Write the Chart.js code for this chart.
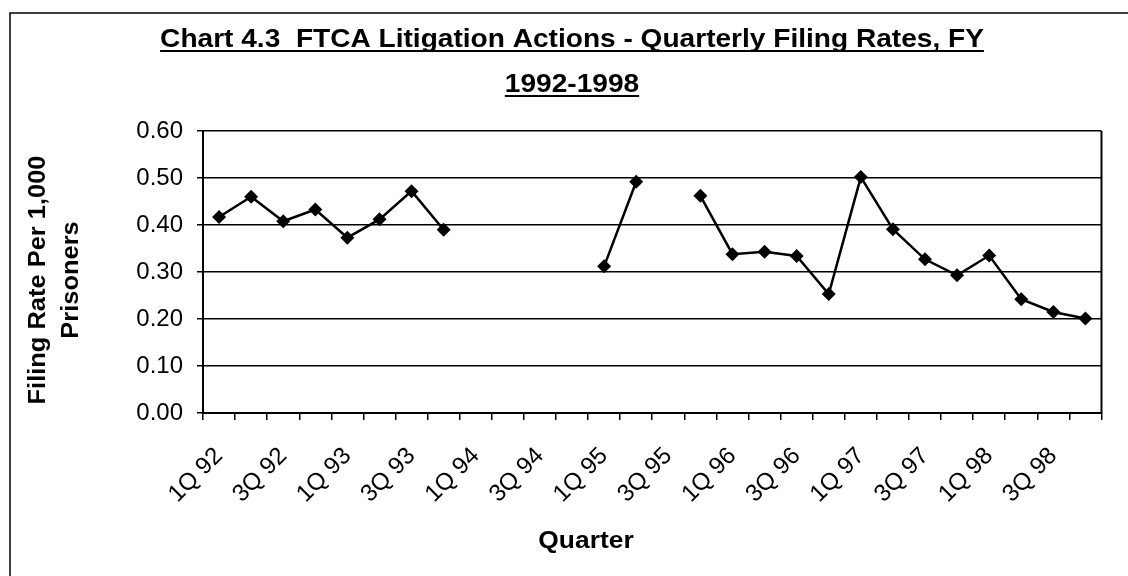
<!DOCTYPE html>
<html>
<head>
<meta charset="utf-8">
<title>Chart 4.3 FTCA Litigation Actions</title>
<script src="https://cdn.jsdelivr.net/npm/chart.js@4.4.1/dist/chart.umd.min.js"></script>
<style>
  html, body { margin: 0; padding: 0; background: #fff; }
  canvas { display: block; }
</style>
</head>
<body>
<canvas id="ftcaChart" width="1128" height="576"></canvas>
<script>
/* ─── DATA ─────────────────────────────── */
const quarters = [
  '1Q 92', '2Q 92', '3Q 92', '4Q 92',
  '1Q 93', '2Q 93', '3Q 93', '4Q 93',
  '1Q 94', '2Q 94', '3Q 94', '4Q 94',
  '1Q 95', '2Q 95', '3Q 95', '4Q 95',
  '1Q 96', '2Q 96', '3Q 96', '4Q 96',
  '1Q 97', '2Q 97', '3Q 97', '4Q 97',
  '1Q 98', '2Q 98', '3Q 98', '4Q 98'
];

// filings per 1,000 prisoners (null = no data reported)
const filingRate = [
  0.417, 0.460, 0.408, 0.433,
  0.373, 0.412, 0.472, 0.390,
  null,  null,  null,  null,
  0.312, 0.492, null,  0.462,
  0.338, 0.343, 0.334, 0.253,
  0.502, 0.391, 0.327, 0.293,
  0.335, 0.242, 0.215, 0.201
];

const yMin = 0;
const yMax = 0.6;
const yStep = 0.1;

const titleLines = ['Chart 4.3  FTCA Litigation Actions - Quarterly Filing Rates, FY', '1992-1998'];
const yTitleLines = ['Filing Rate Per 1,000', 'Prisoners'];
const xTitle = 'Quarter';

/* ─── STYLE ────────────────────────────── */
const FONT = '"Liberation Sans", Arial, Helvetica, sans-serif';
const INK = '#000';

// draw a string a bit wider than the font gives, like the scanned original
function wideText(ctx, text, x, y, stretch) {
  ctx.save();
  ctx.translate(x, y);
  ctx.scale(stretch, 1);
  ctx.fillText(text, 0, 0);
  ctx.restore();
  return ctx.measureText(text).width * stretch;
}

// titles + frame drawn straight onto the canvas (underlined title like the original)
const textFrame = {
  id: 'textFrame',
  afterDraw(chart) {
    const { ctx, chartArea: a } = chart;
    ctx.save();

    // outer chart border: left and top only show, rest runs off the page
    ctx.strokeStyle = INK;
    ctx.lineWidth = 1.5;
    ctx.strokeRect(10, 13, 1300, 800);

    // right edge of the plot area
    ctx.lineWidth = 2;
    ctx.beginPath();
    ctx.moveTo(a.right, a.top);
    ctx.lineTo(a.right, a.bottom);
    ctx.stroke();

    ctx.fillStyle = INK;

    // chart title, underlined
    ctx.font = 'bold 26px ' + FONT;
    ctx.textAlign = 'center';
    ctx.textBaseline = 'alphabetic';
    titleLines.forEach((t, i) => {
      const y = 47 + i * 45;
      const w = wideText(ctx, t, 572, y, 1.08);
      ctx.fillRect(572 - w / 2, y + 3, w, 2);
    });

    // y axis title (two lines, rotated)
    ctx.font = 'bold 24px ' + FONT;
    ctx.textBaseline = 'middle';
    ctx.save();
    ctx.translate(38, 280);
    ctx.rotate(-Math.PI / 2);
    yTitleLines.forEach((t, i) => wideText(ctx, t, 0, i * 33, 1.06));
    ctx.restore();

    // x axis title
    ctx.font = 'bold 24px ' + FONT;
    ctx.textBaseline = 'alphabetic';
    wideText(ctx, xTitle, 586, 548, 1.1);

    ctx.restore();
  }
};

/* ─── CHART ────────────────────────────── */
const ctx = document.getElementById('ftcaChart').getContext('2d');

new Chart(ctx, {
  type: 'line',
  data: {
    labels: quarters,
    datasets: [{
      label: 'Filing rate',
      data: filingRate,
      borderColor: INK,
      backgroundColor: INK,
      borderWidth: 2.5,
      tension: 0,
      spanGaps: false,
      pointStyle: 'rectRot',
      pointRadius: 7,
      pointBorderWidth: 0,
      pointBackgroundColor: INK
    }]
  },
  options: {
    responsive: false,
    animation: false,
    devicePixelRatio: 1,
    layout: { padding: { top: 131, right: 11, left: 0, bottom: 0 } },
    plugins: {
      legend: { display: false },
      tooltip: { enabled: false },
      title: { display: false }
    },
    scales: {
      x: {
        type: 'category',
        offset: true,
        grid: {
          offset: true,
          drawOnChartArea: false,
          drawTicks: true,
          tickLength: 7,
          color: INK,
          lineWidth: 1.5
        },
        border: { display: true, color: INK, width: 2 },
        ticks: {
          autoSkip: false,
          minRotation: 45,
          maxRotation: 45,
          padding: 22,
          color: INK,
          font: { family: FONT, size: 24 },
          callback: function (val, idx) {
            return idx % 2 === 0 ? this.getLabelForValue(val) : '';
          }
        },
        afterFit: s => { s.height = 163; }
      },
      y: {
        min: yMin,
        max: yMax,
        grid: { color: INK, lineWidth: 1.5, tickLength: 6 },
        border: { display: true, color: INK, width: 2 },
        ticks: {
          stepSize: yStep,
          padding: 14,
          color: INK,
          font: { family: FONT, size: 24 },
          callback: v => Number(v).toFixed(2)
        },
        afterFit: s => { s.width = 203; }
      }
    }
  },
  plugins: [textFrame]
});
</script>
</body>
</html>
